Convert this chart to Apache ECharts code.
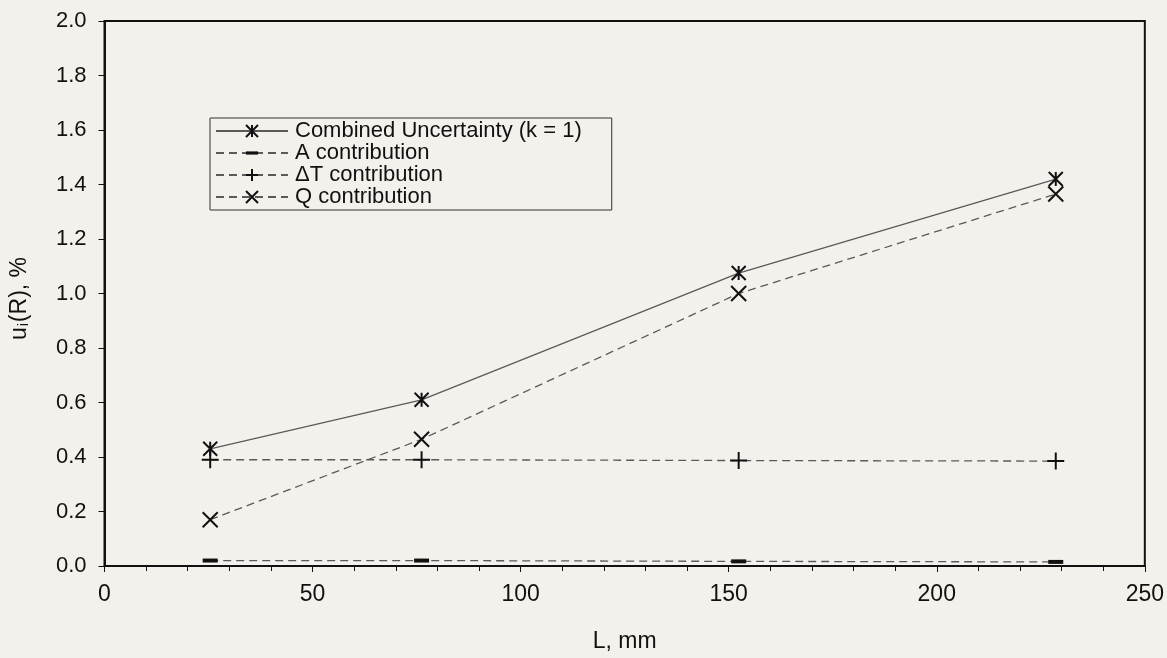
<!DOCTYPE html>
<html>
<head>
<meta charset="utf-8">
<script src="https://cdn.jsdelivr.net/npm/echarts@6/dist/echarts.min.js"></script>
<style>
  html, body { margin: 0; padding: 0; background: #f4f1ed; }
  #chart { width: 1167px; height: 658px; }
</style>
</head>
<body>
<div id="chart"></div>
<script>
// lengths, mm
const lengths = [25.4, 76.2, 152.4, 228.6];
const combined = [0.43, 0.61, 1.075, 1.42];
const aContrib = [0.02, 0.02, 0.017, 0.015];
const dtContrib = [0.39, 0.39, 0.387, 0.385];
const qContrib = [0.17, 0.465, 1.0, 1.365];

const pair = (ys) => lengths.map((x, i) => [x, ys[i]]);

const chart = echarts.init(document.getElementById("chart"));

const FONT = "Liberation Sans";
const strokeSym = { color: "none", borderColor: "#111", borderWidth: 2 };

const baseLine = (name, data, dashed) => ({
  name: name,
  type: "line",
  data: data,
  lineStyle: { color: "#5a5a5a", width: 1.3, type: dashed ? [8, 5] : "solid" },
  emphasis: { disabled: true },
  z: 3,
});

chart.setOption({
  backgroundColor: "#f4f1ed",
  animation: false,
  grid: {
    left: 104, right: 21, top: 21, bottom: 92,
    show: true, borderColor: "#111", borderWidth: 2,
  },
  legend: {
    orient: "vertical",
    left: 210, top: 118,
    padding: [2, 30, 2, 5],
    itemGap: 0,
    itemWidth: 72,
    itemHeight: 15,
    borderColor: "#333",
    borderWidth: 1,
    backgroundColor: "#f4f1ed",
    textStyle: { fontFamily: FONT, fontSize: 22, color: "#111", padding: [0, 0, 0, 2], lineHeight: 22 },
    data: ["Combined Uncertainty (k = 1)", "A contribution", "\u0394T contribution", "Q contribution"],
  },
  xAxis: {
    type: "value",
    min: 0, max: 250, interval: 50,
    name: "L, mm",
    nameLocation: "middle",
    nameGap: 64,
    nameTextStyle: { fontFamily: FONT, fontSize: 23, color: "#111" },
    axisLine: { lineStyle: { color: "#111", width: 2 } },
    axisTick: { inside: false, length: 6, lineStyle: { color: "#111" } },
    minorTick: { show: true, splitNumber: 5, length: 5, lineStyle: { color: "#111" } },
    axisLabel: { fontFamily: FONT, fontSize: 23, color: "#111", margin: 17 },
    splitLine: { show: false },
  },
  yAxis: {
    type: "value",
    min: 0, max: 2, interval: 0.2,
    name: "{u|u}{s|i}{u|(R), %}",
    nameLocation: "middle",
    nameGap: 73,
    nameRotate: 90,
    nameTextStyle: {
      padding: [0, 10, 0, 0],
      rich: {
        u: { fontFamily: FONT, fontSize: 23, color: "#111" },
        s: { fontFamily: FONT, fontSize: 14, color: "#111", padding: [10, 1, 0, 1] },
      },
    },
    axisLine: { show: true, lineStyle: { color: "#111", width: 2 } },
    axisTick: { show: true, inside: false, length: 6, lineStyle: { color: "#111" } },
    axisLabel: {
      fontFamily: FONT, fontSize: 22, color: "#111", margin: 18,
      formatter: (v) => v.toFixed(1),
    },
    splitLine: { show: false },
  },
  series: [
    Object.assign(baseLine("Combined Uncertainty (k = 1)", pair(combined), false), {
      symbol: "path://M0,0 L10,10 M10,0 L0,10 M5,0 L5,10",
      symbolSize: 14,
      itemStyle: strokeSym,
    }),
    Object.assign(baseLine("A contribution", pair(aContrib), true), {
      // dash drawn inside a square box so the legend icon keeps its shape
      symbol: "path://M0,0 M0,5.5 L15,5.5 L15,9.5 L0,9.5 Z M15,15",
      symbolSize: 15,
      itemStyle: { color: "#111" },
    }),
    Object.assign(baseLine("\u0394T contribution", pair(dtContrib), true), {
      symbol: "path://M5,0 L5,10 M0,5 L10,5",
      symbolSize: 17,
      itemStyle: strokeSym,
    }),
    Object.assign(baseLine("Q contribution", pair(qContrib), true), {
      symbol: "path://M0,0 L10,10 M10,0 L0,10",
      symbolSize: 15,
      itemStyle: strokeSym,
    }),
  ],
});
</script>
</body>
</html>
